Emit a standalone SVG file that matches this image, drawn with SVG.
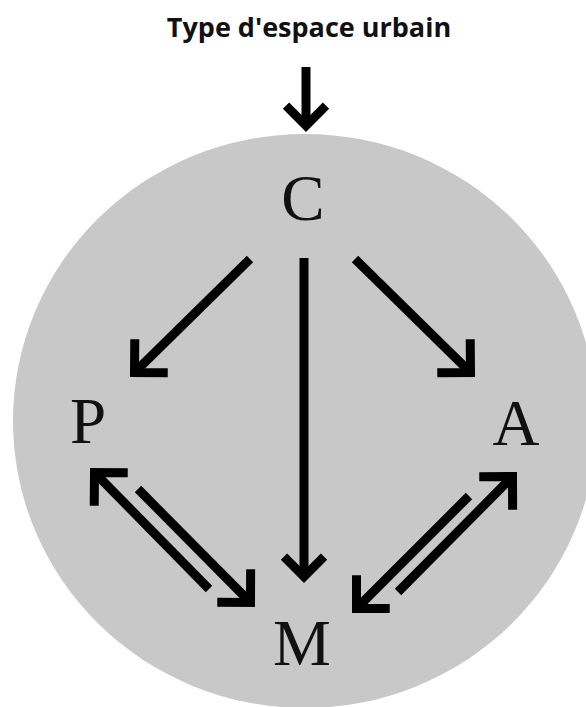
<svg xmlns="http://www.w3.org/2000/svg" width="586" height="707" viewBox="0 0 586 707">
<style>
.title{font-family:"Open Sans","DejaVu Sans",sans-serif;font-weight:bold;font-size:27px;fill:#111}
.lbl{font-family:"Liberation Serif","Times New Roman",serif;font-size:65px;fill:#111;text-anchor:middle}
.ln{fill:none;stroke:#000;stroke-width:9;stroke-linecap:butt}
.hd{fill:none;stroke:#000;stroke-width:9;stroke-linejoin:miter;stroke-linecap:butt}
</style>
<defs>
<marker id="ah" markerUnits="userSpaceOnUse" viewBox="-40 -40 60 80" markerWidth="60" markerHeight="80" refX="0" refY="0" orient="auto" overflow="visible">
<path class="hd" d="M-23.5,-23.5 L0,0 L-23.5,23.5"/>
</marker>
<marker id="ahs" markerUnits="userSpaceOnUse" viewBox="-40 -40 60 80" markerWidth="60" markerHeight="80" refX="0" refY="0" orient="auto" overflow="visible">
<path class="hd" d="M-20,-20 L0,0 L-20,20"/>
</marker>
</defs>
<rect width="586" height="707" fill="#fff"/>
<ellipse id="zone" cx="305" cy="421" rx="292" ry="287" fill="#c8c8c8"/>
<g id="title"><text class="title" x="309" y="37" text-anchor="middle">Type d'espace urbain</text></g>
<g id="node-C"><text class="lbl" x="303" y="220">C</text></g>
<g id="node-P"><text class="lbl" x="88" y="443">P</text></g>
<g id="node-A"><text class="lbl" x="516" y="445">A</text></g>
<g id="node-M"><text class="lbl" x="302" y="665">M</text></g>
<g id="connectors">
<line class="ln" x1="306" y1="67" x2="306" y2="125.6" marker-end="url(#ahs)"/>
<line class="ln" x1="250" y1="259" x2="134.5" y2="372.5" marker-end="url(#ah)"/>
<line class="ln" x1="355" y1="259" x2="470.5" y2="372.5" marker-end="url(#ah)"/>
<line class="ln" x1="304" y1="258" x2="304" y2="576.6" marker-end="url(#ahs)"/>
<line class="ln" x1="209" y1="589" x2="94.5" y2="472.5" marker-end="url(#ah)"/>
<line class="ln" x1="138" y1="489" x2="250.5" y2="602.5" marker-end="url(#ah)"/>
<line class="ln" x1="398" y1="592" x2="512.5" y2="476.5" marker-end="url(#ah)"/>
<line class="ln" x1="469" y1="496" x2="356.5" y2="608.5" marker-end="url(#ah)"/>
</g>
</svg>
